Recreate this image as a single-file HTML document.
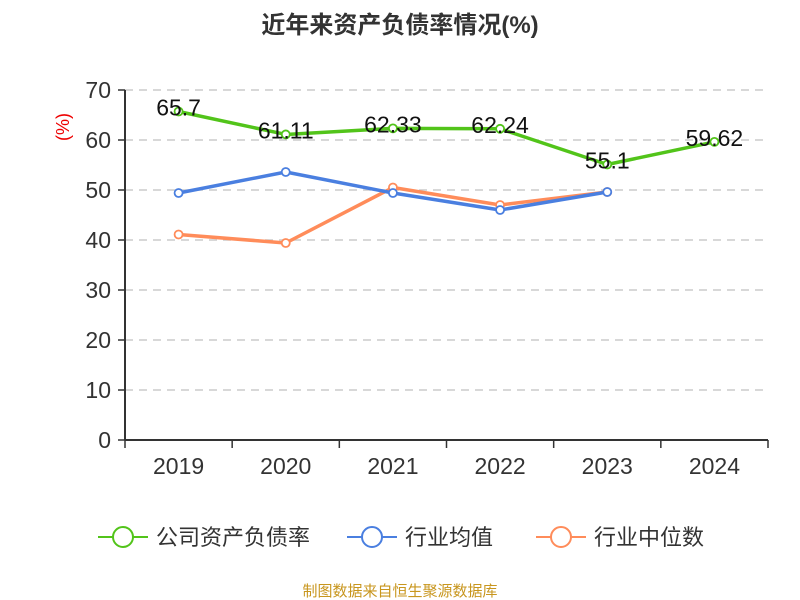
<!DOCTYPE html>
<html><head><meta charset="utf-8"><style>
body{margin:0;background:#fff;}
svg{display:block;font-family:"Liberation Sans","Noto Sans CJK SC",sans-serif;}
</style></head><body>
<svg id="c" width="800" height="600"></svg>
<script>
const categories=["2019","2020","2021","2022","2023","2024"];
const companyVals=[65.7,61.11,62.33,62.24,55.1,59.62];
const avgVals=[49.4,53.6,49.4,46.0,49.6,null];
const medianVals=[41.1,39.4,50.5,47.0,49.6,null];
const yTicks=[0,10,20,30,40,50,60,70];
const NS="http://www.w3.org/2000/svg";
const svg=document.getElementById('c');
const x0=125,x1=768,yTop=90,yBot=440,yMax=70;
const bw=(x1-x0)/categories.length;
const xs=i=>x0+bw*(i+0.5);
const ys=v=>yBot-(v/yMax)*(yBot-yTop);
function mk(tag,attrs,parent){const e=document.createElementNS(NS,tag);for(const k in attrs)e.setAttribute(k,attrs[k]);(parent||svg).appendChild(e);return e;}
let t=mk('text',{x:400,y:33,'text-anchor':'middle','font-size':24,'font-weight':'bold',fill:'#333'});t.textContent='近年来资产负债率情况(%)';


t=mk('text',{x:69,y:127,'text-anchor':'middle','font-size':18,fill:'#e00',transform:'rotate(-90 69 127)'});t.textContent='(%)';


yTicks.forEach(v=>{
  const y=ys(v);
  if(v>0){const g=mk('line',{x1:x0,x2:x1,y1:y,y2:y,stroke:'#ccc','stroke-dasharray':'8,6','stroke-width':1.5});
  
  }
  mk('line',{x1:x0-7,x2:x0,y1:y,y2:y,stroke:'#333','stroke-width':1.5});
  const l=mk('text',{x:x0-14,y:y+8,'text-anchor':'end','font-size':23,fill:'#333'});l.textContent=v;
  
  
});
mk('line',{x1:x0,x2:x0,y1:yTop,y2:yBot,stroke:'#333','stroke-width':2});
mk('line',{x1:x0,x2:x1,y1:yBot,y2:yBot,stroke:'#333','stroke-width':2});
for(let i=0;i<=categories.length;i++){const x=x0+bw*i;mk('line',{x1:x,x2:x,y1:yBot,y2:yBot+8,stroke:'#333','stroke-width':1.5});}
categories.forEach((c,i)=>{const l=mk('text',{x:xs(i),y:474,'text-anchor':'middle','font-size':23,fill:'#333'});l.textContent=c;
  
  });
function series(vals,color,name,labels){
  const pts=[];vals.forEach((v,i)=>{if(v!=null)pts.push([xs(i),ys(v),v]);});
  const p=mk('polyline',{points:pts.map(p=>p[0]+','+p[1]).join(' '),fill:'none',stroke:color,'stroke-width':3.5,'stroke-linejoin':'round'});
  
  
  pts.forEach(q=>{const c=mk('circle',{cx:q[0],cy:q[1],r:4,fill:'#fff',stroke:color,'stroke-width':1.8});
    
    
    if(labels){const l=mk('text',{x:q[0],y:q[1]+4,'text-anchor':'middle','font-size':23,fill:'#111'});l.textContent=q[2];
      
      }
  });
}
series(medianVals,'#ff8c5a','median',false);
series(avgVals,'#4a7fe0','average',false);
series(companyVals,'#52c41a','company',true);
const legend=[['公司资产负债率','#52c41a',98],['行业均值','#4a7fe0',347],['行业中位数','#ff8c5a',536]];
legend.forEach(l=>{
  const g=mk('g',{});
  
  
  mk('line',{x1:l[2],x2:l[2]+50,y1:537,y2:537,stroke:l[1],'stroke-width':2},g);
  mk('circle',{cx:l[2]+25,cy:537,r:10,fill:'#fff',stroke:l[1],'stroke-width':2},g);
  const tx=mk('text',{x:l[2]+58,y:545,'font-size':22,fill:'#333'},g);tx.textContent=l[0];
});
t=mk('text',{x:400,y:596,'text-anchor':'middle','font-size':15,fill:'#c8961e'});t.textContent='制图数据来自恒生聚源数据库';


</script>
</body></html>
